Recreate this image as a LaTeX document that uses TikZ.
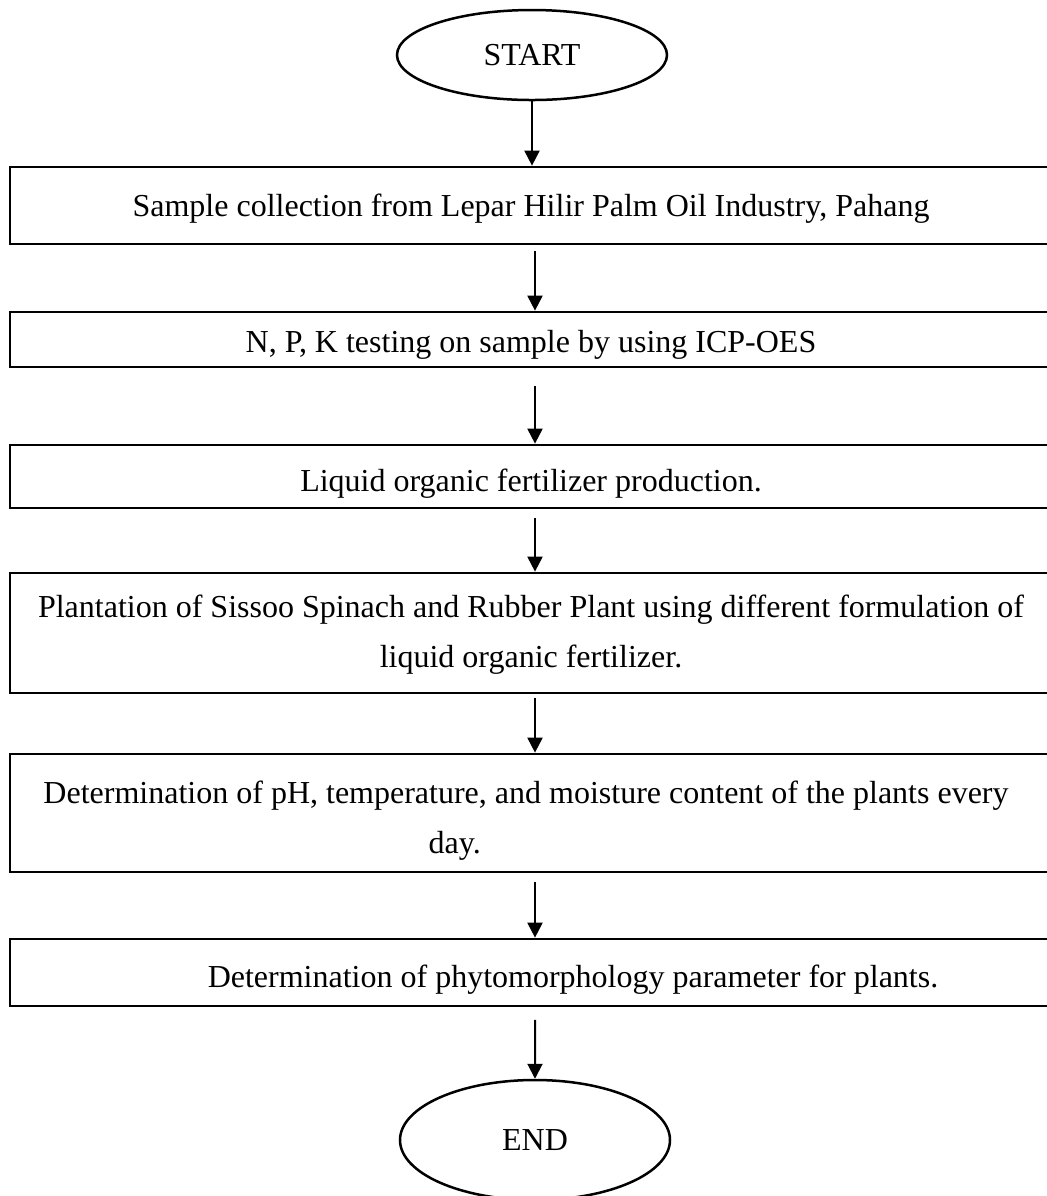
\documentclass[tikz,border=0pt]{standalone}
\usepackage{fontspec}
\setmainfont{Liberation Serif}
\usetikzlibrary{arrows.meta,shapes.geometric}
\begin{document}
\begin{tikzpicture}[
  x=0.4pt, y=-0.4pt,
  font=\fontsize{12.8}{20}\selectfont,
  terminal/.style={draw, line width=1pt, ellipse, minimum width=108pt, minimum height=36pt, inner sep=0pt},
  stepbox/.style={draw, line width=1.1pt, rectangle, minimum width=416.8pt, inner sep=0pt},
  steptext/.style={align=center, inner sep=0pt},
  flow/.style={line width=0.8pt, -{Triangle[length=6pt,width=6pt]}},
]
\def\xmid{531}

\path[use as bounding box] (0,0) rectangle (1047,1196);

\node[terminal] (start) at (532,55) {START};

% boxes
\node[stepbox, minimum height=30.8pt] (collect) at (\xmid,205.5) {};
\node[stepbox, minimum height=22pt] (npk) at (\xmid,339.5) {};
\node[stepbox, minimum height=25.2pt] (lof) at (\xmid,476.5) {};
\node[stepbox, minimum height=48pt] (plant) at (\xmid,633) {};
\node[stepbox, minimum height=47.2pt] (daily) at (\xmid,813) {};
\node[stepbox, minimum height=26.8pt] (phyto) at (\xmid,972.5) {};

% texts
\node[steptext] (collect-t) at (\xmid,209)
  {Sample collection from Lepar Hilir Palm Oil Industry, Pahang};
\node[steptext] (npk-t) at (\xmid,345)
  {N, P, K testing on sample by using ICP-OES};
\node[steptext] (lof-t) at (\xmid,484)
  {Liquid organic fertilizer production.};
\node[steptext] (plant-t) at (\xmid,635)
  {Plantation of Sissoo Spinach and Rubber Plant using different formulation of\\
   liquid organic fertilizer.};
\node[steptext] (daily-t) at (526,821)
  {Determination of pH, temperature, and moisture content of the plants every\\
   day.\hspace*{57pt}};
\node[steptext] (phyto-t) at (573,980)
  {Determination of phytomorphology parameter for plants.};

\node[terminal, minimum height=48pt] (end) at (535,1140) {END};

\draw[flow] (start.south) -- (start.south |- collect.north);
\foreach \a/\b/\g in {collect/npk/2.4pt, npk/lof/7pt, lof/plant/3.6pt,
                      plant/daily/1.6pt, daily/phyto/3.6pt}
  \draw[flow, shorten <=\g] ([xshift=1.6pt]\a.south) -- ([xshift=1.6pt]\b.north);
\draw[flow, shorten <=5pt] ([xshift=1.6pt]phyto.south) -- (end.north);
\end{tikzpicture}
\end{document}
